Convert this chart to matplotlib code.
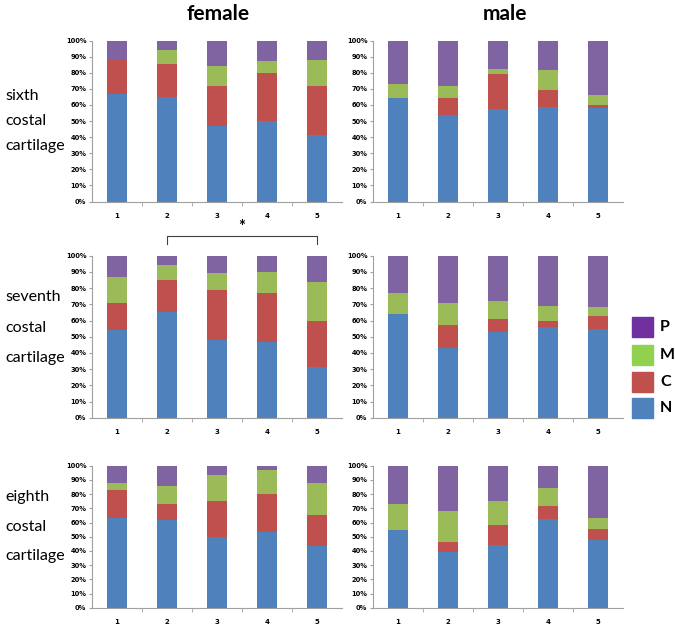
import numpy as np
import matplotlib
matplotlib.use("Agg")
import matplotlib.pyplot as plt

plt.rcParams["font.family"] = ["Lato", "DejaVu Sans"]

groups = ["1", "2", "3", "4", "5"]
segments = ["N", "C", "M", "P"]
colors = {"N": "#4F81BD", "C": "#C0504D", "M": "#9BBB59", "P": "#8064A2"}
legend_colors = {"N": "#4F81BD", "C": "#C0504D", "M": "#92D050", "P": "#7030A0"}

# percentages per group, order N, C, M, P
sixth_female = {"N": [67, 65, 47, 50, 41], "C": [21, 20.5, 25, 30, 31],
                "M": [0, 8.5, 12, 7, 16], "P": [12, 6, 16, 13, 12]}
sixth_male = {"N": [64, 53.5, 57.5, 59, 58], "C": [0, 10.5, 21.5, 10, 2],
              "M": [9, 7.5, 3, 12.5, 6], "P": [27, 28.5, 18, 18.5, 34]}
seventh_female = {"N": [54, 65, 48, 47, 31.5], "C": [17, 20, 31, 30, 28],
                  "M": [16, 9, 10.5, 13, 24.5], "P": [13, 6, 10.5, 10, 16]}
seventh_male = {"N": [64, 43, 53, 56, 55], "C": [0, 14, 8, 3.5, 8],
                "M": [13, 14, 11, 9.5, 5.5], "P": [23, 29, 28, 31, 31.5]}
eighth_female = {"N": [63, 62, 49.5, 53.5, 43.5], "C": [20, 11, 25.5, 26.5, 21.5],
                 "M": [4.5, 12.5, 18.5, 17, 22.5], "P": [12.5, 14.5, 6.5, 3, 12.5]}
eighth_male = {"N": [55, 39.5, 44.5, 62.5, 47.5], "C": [0, 6.5, 14, 9, 8],
               "M": [18, 22, 16.5, 13, 8], "P": [27, 32, 25, 15.5, 36.5]}

rows = [("sixth", sixth_female, sixth_male),
        ("seventh", seventh_female, seventh_male),
        ("eighth", eighth_female, eighth_male)]

W, H = 675, 626
fig = plt.figure(figsize=(W / 100, H / 100), dpi=100)

# pixel extents of each row (top of 100%, bottom at 0%)
row_px = [(40.5, 201.5), (255.7, 417.7), (465.7, 607.7)]
col_px = [92, 373]
ax_w = 250
label_y = [(96, 121, 146), (297, 328, 358), (497, 527, 556)]


def draw_panel(ax, data):
    x = np.arange(1, len(groups) + 1)
    bottom = np.zeros(len(groups))
    for s in segments:
        vals = np.array(data[s]) / 100
        ax.bar(x, vals, width=0.4, bottom=bottom, color=colors[s], linewidth=0)
        bottom += vals
    ax.set_xlim(0.5, 5.5)
    ax.set_ylim(0, 1)
    ax.set_yticks(np.arange(0, 1.01, 0.1))
    ax.set_yticklabels([f"{int(round(v * 100))}%" for v in np.arange(0, 1.01, 0.1)],
                       fontsize=4.8, fontweight="bold", family="DejaVu Sans")
    ax.set_xticks(x)
    ax.set_xticklabels(groups, fontsize=5, fontweight="bold", family="DejaVu Sans")
    ax.set_xticks(np.arange(1.5, 5.5, 1), minor=True)
    ax.tick_params(axis="x", which="major", length=0, pad=8)
    ax.tick_params(axis="x", which="minor", length=3, color="#A0A0A0", direction="out")
    ax.tick_params(axis="y", length=2, color="#A0A0A0", pad=2)
    for sp in ["top", "right"]:
        ax.spines[sp].set_visible(False)
    for sp in ["left", "bottom"]:
        ax.spines[sp].set_color("#A0A0A0")
        ax.spines[sp].set_linewidth(0.8)


axes = []
for r, (name, fem, mal) in enumerate(rows):
    top, bot = row_px[r]
    for c, data in enumerate([fem, mal]):
        ax = fig.add_axes([col_px[c] / W, 1 - bot / H, ax_w / W, (bot - top) / H])
        draw_panel(ax, data)
        axes.append(ax)
    for txt, yy in zip([name, "costal", "cartilage"], label_y[r]):
        fig.text(5 / W, 1 - yy / H, txt, fontsize=11.5, va="center", ha="left")

fig.text(218 / W, 1 - 14 / H, "female", fontsize=15, fontweight="bold", ha="center", va="center")
fig.text(505 / W, 1 - 14 / H, "male", fontsize=15, fontweight="bold", ha="center", va="center")

# significance bracket between groups 2 and 5 (female, seventh)
ax = axes[2]
ax.plot([2, 2, 5, 5], [1.07, 1.12, 1.12, 1.07], color="#404040", lw=0.8, clip_on=False)
ax.text(3.5, 1.13, "*", ha="center", va="bottom", fontsize=12, fontweight="bold")

# legend
leg_items = [("P", 317), ("M", 345), ("C", 372), ("N", 398)]
for lab, yy in leg_items:
    fig.patches.append(plt.Rectangle((632 / W, 1 - (yy + 20) / H), 21 / W, 20 / H,
                                     transform=fig.transFigure, color=legend_colors[lab]))
    fig.text(660 / W, 1 - (yy + 10) / H, lab, fontsize=11.5, fontweight="bold",
             va="center", ha="left")

fig.savefig("out.png", dpi=100)
